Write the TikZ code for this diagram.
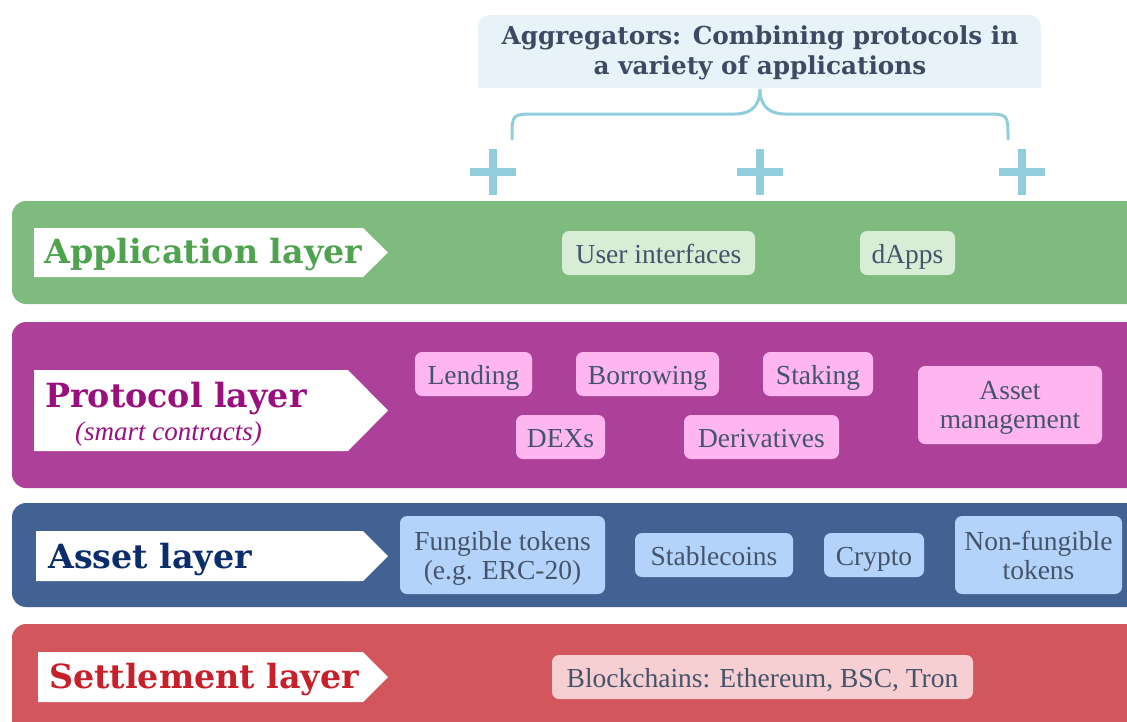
\documentclass[tikz,border=0pt]{standalone}
\usepackage{fontspec}
\setmainfont{Liberation Serif}
\newfontfamily\headfont{DejaVu Serif}
\definecolor{aggfill}{HTML}{E7F3F8}
\definecolor{aggtext}{HTML}{3E4A63}
\definecolor{bracecol}{HTML}{92CDDC}
\definecolor{appband}{HTML}{7FBA7E}
\definecolor{apptitle}{HTML}{4FA34F}
\definecolor{appitem}{HTML}{D8EDD6}
\definecolor{protoband}{HTML}{AD4199}
\definecolor{prototitle}{HTML}{990F7D}
\definecolor{protoitem}{HTML}{FFB5F0}
\definecolor{assetband}{HTML}{426293}
\definecolor{assettitle}{HTML}{0C2D6B}
\definecolor{assetitem}{HTML}{B4D3FA}
\definecolor{settleband}{HTML}{D4565D}
\definecolor{settletitle}{HTML}{C8202B}
\definecolor{settleitem}{HTML}{F7CED1}
\definecolor{itemtext}{HTML}{44546A}
\begin{document}
\begin{tikzpicture}[x=1pt, y=-1pt,
    band/.style={rounded corners=14},
    title/.style={anchor=base west, inner sep=0, font=\headfont\bfseries\fontsize{33.3}{38}\selectfont},
    item/.style={rounded corners=7, inner sep=0, align=center, text=itemtext, text depth=0pt, font=\fontsize{27.5}{29}\selectfont},
    oneline/.style={item, text height=20pt, minimum height=44},
    twoline/.style={item, minimum height=78},
    plusline/.style={bracecol, line width=8}]
  \useasboundingbox (0,0) rectangle (1127,721);

  % aggregators
  \fill[aggfill] (478,88) [rounded corners=12] -- (478,15) -- (1041,15) [sharp corners] -- (1041,88) -- cycle;
  \node[align=center, text=aggtext, font=\headfont\bfseries\fontsize{24.7}{30}\selectfont] (agg) at (760,53)
    {Aggregators: Combining protocols in\\a variety of applications};
  \draw[bracecol, line width=3] (512,140) -- (512,138) .. controls (512,114) .. (536,114) -- (735,114)
    .. controls (752,114) and (760,105) .. (760,89) .. controls (760,105) and (768,114) .. (785,114)
    -- (984,114) .. controls (1008,114) .. (1008,138) -- (1008,140);

  % plus signs
  \coordinate (plusA) at (493,172);
  \coordinate (plusB) at (760,172);
  \coordinate (plusC) at (1022,172);
  \foreach \p in {plusA,plusB,plusC}
    \draw[plusline, shift={(\p)}] (-23,0) -- (23,0) (0,-23) -- (0,23);

  % bands
  \fill[appband, band] (12,201) rectangle (1160,304);
  \fill[protoband, band] (12,322) rectangle (1160,488);
  \fill[assetband, band] (12,503) rectangle (1160,607);
  \fill[settleband, band] (12,624) rectangle (1160,745);

  % layer tags
  \fill[white] (34,228) -- (363,228) -- (388,252.5) -- (363,277) -- (34,277) -- cycle;
  \fill[white] (34,370) -- (348,370) -- (388,410.5) -- (348,451) -- (34,451) -- cycle;
  \fill[white] (36,531) -- (363,531) -- (388,556) -- (363,581) -- (36,581) -- cycle;
  \fill[white] (38,652) -- (363,652) -- (388,677) -- (363,702) -- (38,702) -- cycle;

  \node[title, text=apptitle] (applayer) at (44,263) {Application layer};
  \node[title, text=prototitle] (protolayer) at (45,407) {Protocol layer};
  \node[anchor=base west, inner sep=0, text=prototitle, font=\itshape\fontsize{27}{30}\selectfont] (smart) at (75,440) {(smart contracts)};
  \node[title, text=assettitle] (assetlayer) at (48,568) {Asset layer};
  \node[title, text=settletitle] (settlelayer) at (49,688) {Settlement layer};

  % application items
  \node[oneline, fill=appitem, minimum width=193] (ui) at (658.5,253) {User interfaces};
  \node[oneline, fill=appitem, minimum width=95] (dapps) at (907.5,253) {dApps};

  % protocol items
  \node[oneline, fill=protoitem, minimum width=117] (lending) at (473.5,374) {Lending};
  \node[oneline, fill=protoitem, minimum width=143] (borrowing) at (647.5,374) {Borrowing};
  \node[oneline, fill=protoitem, minimum width=110] (staking) at (818,374) {Staking};
  \node[oneline, fill=protoitem, minimum width=89] (dexs) at (560.5,437) {DEXs};
  \node[oneline, fill=protoitem, minimum width=155] (deriv) at (761.5,437) {Derivatives};
  \node[twoline, fill=protoitem, minimum width=184] (assetmgmt) at (1010,405) {Asset\\management};

  % asset items
  \node[twoline, fill=assetitem, minimum width=205] (fungible) at (502.5,555) {Fungible tokens\\(e.g. ERC-20)};
  \node[oneline, fill=assetitem, minimum width=158] (stable) at (714,555) {Stablecoins};
  \node[oneline, fill=assetitem, minimum width=100] (crypto) at (874,555) {Crypto};
  \node[twoline, fill=assetitem, minimum width=167] (nft) at (1038.5,555) {Non-fungible\\tokens};

  % settlement items
  \node[oneline, fill=settleitem, minimum width=421] (chains) at (762.5,677) {Blockchains: Ethereum, BSC, Tron};
\end{tikzpicture}
\end{document}
